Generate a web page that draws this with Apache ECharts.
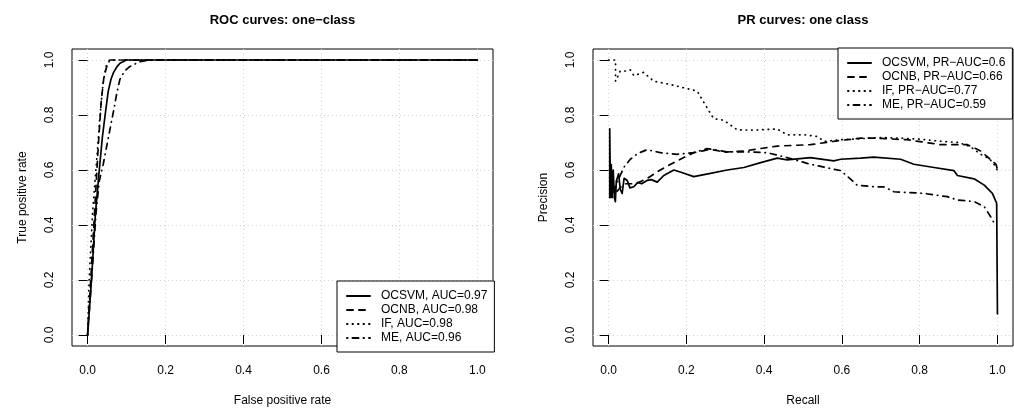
<!DOCTYPE html>
<html>
<head>
<meta charset="utf-8">
<title>ROC / PR curves</title>
<script src="https://cdn.jsdelivr.net/npm/echarts@6/dist/echarts.min.js"></script>
<style>
  html, body { margin: 0; padding: 0; background: #fff; }
  #chart { width: 1014px; height: 412px; }
</style>
</head>
<body>
<div id="chart"></div>
<script>
// tick labels shared by all four axes
const tickValues = [0, 0.2, 0.4, 0.6, 0.8, 1.0]

// ROC curves: [false positive rate, true positive rate]
const rocOcsvm = [[0, 0], [0.01, 0.2], [0.02, 0.44], [0.03, 0.6], [0.038, 0.72], [0.045, 0.8], [0.053, 0.887], [0.06, 0.93], [0.066, 0.953], [0.075, 0.975], [0.083, 0.988], [0.1, 1], [1, 1]]
const rocOcnb = [[0, 0], [0.008, 0.2], [0.018, 0.45], [0.028, 0.7], [0.035, 0.85], [0.042, 0.94], [0.05, 0.98], [0.056, 1], [1, 1]]
const rocIf = [[0, 0], [0.004, 0.2], [0.013, 0.45], [0.024, 0.65], [0.032, 0.8], [0.04, 0.92], [0.048, 0.98], [0.058, 1], [1, 1]]
const rocMe = [[0, 0], [0.01, 0.2], [0.022, 0.45], [0.03, 0.56], [0.04, 0.62], [0.053, 0.716], [0.066, 0.81], [0.075, 0.88], [0.083, 0.93], [0.095, 0.96], [0.108, 0.976], [0.134, 0.994], [0.16, 1], [1, 1]]

// PR curves: [recall, precision]
const prOcsvm = [[0.003, 0.5], [0.003, 0.75], [0.005, 0.5], [0.007, 0.62], [0.009, 0.5], [0.012, 0.6], [0.015, 0.5], [0.0175, 0.485], [0.02, 0.56], [0.026, 0.586], [0.03, 0.53], [0.035, 0.515], [0.04, 0.57], [0.048, 0.562], [0.055, 0.535], [0.065, 0.539], [0.075, 0.555], [0.085, 0.55], [0.099, 0.562], [0.11, 0.565], [0.125, 0.556], [0.142, 0.58], [0.168, 0.6], [0.19, 0.59], [0.219, 0.576], [0.262, 0.588], [0.305, 0.6], [0.348, 0.609], [0.391, 0.627], [0.434, 0.643], [0.459, 0.637], [0.519, 0.645], [0.579, 0.633], [0.597, 0.639], [0.648, 0.643], [0.682, 0.647], [0.751, 0.639], [0.785, 0.621], [0.837, 0.609], [0.888, 0.598], [0.897, 0.58], [0.94, 0.568], [0.966, 0.545], [0.987, 0.515], [0.998, 0.479], [1, 0.077]]
const prOcnb = [[0.003, 0.5], [0.01, 0.55], [0.02, 0.52], [0.04, 0.55], [0.07, 0.55], [0.1, 0.57], [0.133, 0.6], [0.176, 0.633], [0.219, 0.663], [0.262, 0.675], [0.3, 0.665], [0.348, 0.669], [0.4, 0.68], [0.434, 0.687], [0.519, 0.692], [0.588, 0.706], [0.648, 0.716], [0.682, 0.716], [0.768, 0.71], [0.854, 0.692], [0.923, 0.692], [0.957, 0.669], [0.996, 0.621], [1, 0.604]]
const prIf = [[0, 1], [0.018, 1], [0.018, 0.923], [0.03, 0.96], [0.045, 0.96], [0.056, 0.964], [0.065, 0.943], [0.09, 0.955], [0.116, 0.923], [0.159, 0.911], [0.193, 0.899], [0.228, 0.887], [0.245, 0.846], [0.27, 0.787], [0.296, 0.781], [0.331, 0.746], [0.374, 0.745], [0.434, 0.749], [0.459, 0.728], [0.502, 0.728], [0.537, 0.722], [0.554, 0.704], [0.597, 0.71], [0.65, 0.714], [0.7, 0.718], [0.75, 0.716], [0.8, 0.712], [0.85, 0.705], [0.9, 0.7], [0.93, 0.685], [0.957, 0.657], [0.98, 0.64], [0.991, 0.621], [1, 0.598]]
const prMe = [[0.01, 0.5], [0.02, 0.55], [0.03, 0.58], [0.039, 0.609], [0.056, 0.639], [0.075, 0.66], [0.099, 0.674], [0.133, 0.663], [0.176, 0.657], [0.219, 0.663], [0.253, 0.678], [0.305, 0.666], [0.356, 0.666], [0.408, 0.663], [0.459, 0.645], [0.519, 0.621], [0.579, 0.603], [0.597, 0.598], [0.631, 0.556], [0.639, 0.545], [0.682, 0.539], [0.708, 0.539], [0.734, 0.521], [0.811, 0.515], [0.871, 0.503], [0.897, 0.491], [0.94, 0.485], [0.966, 0.467], [0.987, 0.42], [0.993, 0.402]]

const rocNames = ['OCSVM, AUC=0.97', 'OCNB, AUC=0.98', 'IF, AUC=0.98', 'ME, AUC=0.96']
const prNames = ['OCSVM, PR−AUC=0.6', 'OCNB, PR−AUC=0.66', 'IF, PR−AUC=0.77', 'ME, PR−AUC=0.59']

const FONT = '"Liberation Sans", Arial, Helvetica, sans-serif'
// R line types: solid, dashed, dotted, dotdash
const dashes = ['solid', [6, 6], [0.5, 5], [0.5, 5, 6, 5]]

function axis(gridIndex, name, isY) {
  return {
    type: 'value',
    gridIndex: gridIndex,
    min: -0.04,
    max: 1.04,
    name: name,
    nameLocation: 'middle',
    nameGap: isY ? 43 : 49,
    nameTextStyle: { color: '#000', fontSize: 12, fontFamily: FONT },
    axisLine: { show: false },
    axisTick: { customValues: tickValues, length: 9, lineStyle: { color: '#000', width: 1 } },
    axisLabel: {
      customValues: tickValues,
      formatter: v => v.toFixed(1),
      margin: isY ? 16 : 19,
      rotate: isY ? 90 : 0,
      color: '#000',
      fontSize: 12,
      fontFamily: FONT
    },
    splitLine: { show: true, lineStyle: { color: '#d3d3d3', type: [1, 3], width: 1 } }
  }
}

function legend(names, left, top) {
  return {
    data: names,
    left: left,
    top: top,
    orient: 'vertical',
    selectedMode: false,
    backgroundColor: '#fff',
    borderColor: '#000',
    borderWidth: 1,
    borderRadius: 0,
    padding: [8, 7, 7, 9],
    itemWidth: 23,
    itemHeight: 10,
    itemGap: 0,
    // hide the marker dot, keep only the line sample
    itemStyle: { opacity: 0 },
    textStyle: { color: '#000', fontSize: 12, fontFamily: FONT, lineHeight: 14, padding: [0, 0, 0, 6] }
  }
}

function line(name, data, i, idx) {
  return {
    name: name,
    type: 'line',
    xAxisIndex: idx,
    yAxisIndex: idx,
    data: data,
    symbol: 'none',
    showSymbol: false,
    silent: true,
    color: '#000',
    lineStyle: { color: '#000', width: 1.7, type: dashes[i], cap: 'round', join: 'round' },
    z: 3
  }
}

const chart = echarts.init(document.getElementById('chart'), null, { renderer: 'canvas' })
const rocData = [rocOcsvm, rocOcnb, rocIf, rocMe]
const prData = [prOcsvm, prOcnb, prIf, prMe]

const options = {
  backgroundColor: '#fff',
  animation: false,
  textStyle: { fontFamily: FONT },
  grid: [
    { left: 72, top: 49, width: 421, height: 304, show: true, borderColor: '#000', borderWidth: 1 },
    { left: 593, top: 49, width: 420, height: 304, show: true, borderColor: '#000', borderWidth: 1 }
  ],
  xAxis: [axis(0, 'False positive rate', false), axis(1, 'Recall', false)],
  yAxis: [axis(0, 'True positive rate', true), axis(1, 'Precision', true)],
  legend: [legend(rocNames, 337, 281), legend(prNames, 838, 48)],
  graphic: [
    { type: 'text', x: 282.5, y: 20, style: { text: 'ROC curves: one−class', font: 'bold 13px ' + FONT, fill: '#000', textAlign: 'center', textVerticalAlign: 'middle' } },
    { type: 'text', x: 803, y: 20, style: { text: 'PR curves: one class', font: 'bold 13px ' + FONT, fill: '#000', textAlign: 'center', textVerticalAlign: 'middle' } }
  ],
  series: rocData.map((d, i) => line(rocNames[i], d, i, 0))
    .concat(prData.map((d, i) => line(prNames[i], d, i, 1)))
}

chart.setOption(options)
</script>
</body>
</html>
